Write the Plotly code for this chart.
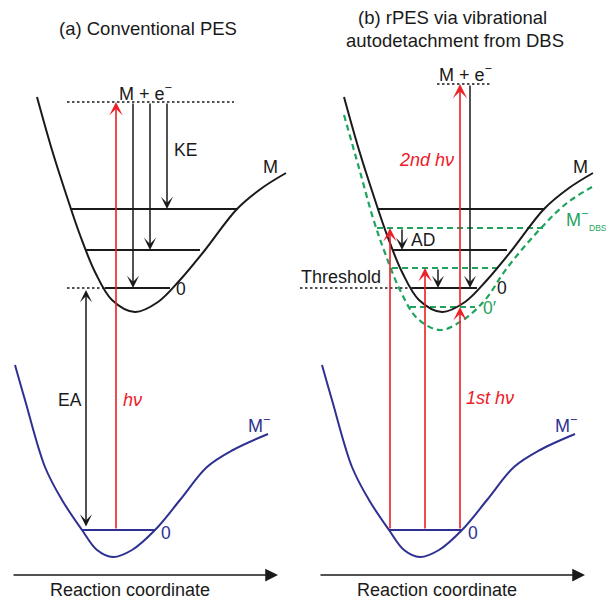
import plotly.graph_objects as go

# ---------------- data (reaction coordinate, energy) ----------------
PANEL_SHIFT = [0, 307]          # panel (a), panel (b)

# neutral M potential curve
M_X = [37, 52, 68, 80, 95, 112, 135, 158, 180, 205, 237, 262, 286]
M_E = [503, 450, 400, 365, 328, 300, 288, 298, 320, 350, 391, 412, 427]
# anion M- potential curve
ANION_X = [15, 25, 45, 62, 82, 97, 113, 132, 155, 180, 207, 233, 268]
ANION_E = [235, 200, 133, 100, 70, 50, 43, 50, 70, 100, 133, 150, 166]
# dipole-bound state M-_DBS curve
DBS_X = [37, 52, 66, 78, 93, 110, 133, 156, 178, 200, 234, 260, 285]
DBS_E = [485, 432, 382, 347, 310, 282, 270, 280, 300, 332, 372, 397, 413]

# vibrational levels
M_LEV_E = [391, 350, 312]
M_LEV_X0 = [70, 86, 105]
M_LEV_X1 = [238, 200, 170]
DBS_LEV_E = [372, 332, 293]
DBS_LEV_X0 = [70, 85, 103]
DBS_LEV_X1 = [238, 195, 168]
ANION_LEV_E = 70
ANION_LEV_X = [82, 155]

DETACH_E = [498, 516]            # M + e- level in (a), (b)
DETACH_X = [[67, 234], [130, 183]]
THRESH_X = [[67, 105], [-7, 105]]

# transitions in (a)
A_HV_X = 116
A_KE_X = [133, 150, 167]
A_KE_TO = [312, 350, 391]
A_EA_X = 86
# transitions in (b)
B_1ST_X = [83, 118, 153]
B_1ST_TO = [372, 332, 293]
B_2ND_X = 153
B_KE_X = 163
B_AD_X = [95, 131]
B_AD_FROM = [372, 332]
B_AD_TO = [350, 312]

BLACK = "#1a1a1a"
BLUE = "#2e3192"
RED = "#ec2027"
GREEN = "#1fa45e"
FONT = "Liberation Sans, Arial, sans-serif"

fig = go.Figure()


def line(xs, es, color, width, dash="solid", shape="linear"):
    fig.add_trace(go.Scatter(x=xs, y=es, mode="lines", hoverinfo="skip",
                             showlegend=False,
                             line=dict(color=color, width=width, dash=dash,
                                       shape=shape, smoothing=1.0)))


def arrow(x, e_from, e_to, color, width=1.5, head=3, size=1.35, both=False,
          horizontal=False, y=None):
    kw = dict(xref="x", yref="y", axref="x", ayref="y", showarrow=True,
              arrowhead=head, arrowsize=size, arrowwidth=width,
              arrowcolor=color, standoff=0, startstandoff=0, text="")
    if horizontal:
        kw.update(x=e_to, y=y, ax=e_from, ay=y)
    else:
        kw.update(x=x, y=e_to, ax=x, ay=e_from)
    if both:
        kw.update(arrowside="end+start", startarrowhead=head,
                  startarrowsize=size)
    fig.add_annotation(**kw)


def label(x, e, text, color=BLACK, size=17.5, xanchor="center"):
    fig.add_annotation(x=x, y=e, text=text, showarrow=False, xanchor=xanchor,
                       yanchor="middle", font=dict(family=FONT, size=size,
                                                   color=color))


DOT = "2.5px,2.5px"
DASH = "6px,4px"

for p, s in enumerate(PANEL_SHIFT):
    sx = lambda xs: [v + s for v in xs]
    # curves
    if p == 1:
        line(sx(DBS_X), DBS_E, GREEN, 2.2, dash=DASH, shape="spline")
        for e, x0, x1 in zip(DBS_LEV_E, DBS_LEV_X0, DBS_LEV_X1):
            line([x0 + s, x1 + s], [e, e], GREEN, 2.2, dash=DASH)
    line(sx(M_X), M_E, BLACK, 2.0, shape="spline")
    line(sx(ANION_X), ANION_E, BLUE, 2.0, shape="spline")
    for e, x0, x1 in zip(M_LEV_E, M_LEV_X0, M_LEV_X1):
        line([x0 + s, x1 + s], [e, e], BLACK, 1.8)
    line(sx(ANION_LEV_X), [ANION_LEV_E] * 2, BLUE, 2.0)
    line(sx(DETACH_X[p]), [DETACH_E[p]] * 2, BLACK, 1.6, dash=DOT)
    line(sx(THRESH_X[p]), [M_LEV_E[2]] * 2, BLACK, 1.6, dash=DOT)
    # reaction-coordinate axis arrow
    arrow(None, 12 + s, 278 + s, BLACK, width=1.5, head=2, size=1.7,
          horizontal=True, y=25)
    label(130 + s, 10.5, "Reaction coordinate", size=18)
    label(259 + s, 176, "M<sup>−</sup>", BLUE, 18)
    label(166 + s, 67, "0", BLUE, 17.5)

# ---- panel (a) ----
arrow(A_HV_X, ANION_LEV_E, DETACH_E[0], RED, width=1.6, size=1.4)
for x, e in zip(A_KE_X, A_KE_TO):
    arrow(x, DETACH_E[0], e, BLACK, width=1.5)
arrow(A_EA_X, ANION_LEV_E + 2, M_LEV_E[2] - 2, BLACK, width=1.5, both=True)
label(148, 572, "(a) Conventional PES", size=18.5)
label(145, 508, "M + e<sup>−</sup>", size=18)
label(185, 450, "KE", size=17.5)
label(270, 433, "M", size=18)
label(181, 311, "0", size=17.5)
label(70, 200, "EA", size=17.5)
label(132, 200, "<i>hν</i>", RED, 18)

# ---- panel (b) ----
s = PANEL_SHIFT[1]
for x, e in zip(B_1ST_X, B_1ST_TO):
    arrow(x + s, ANION_LEV_E, e, RED, width=1.6, size=1.4)
arrow(B_2ND_X + s, B_1ST_TO[2], DETACH_E[1], RED, width=1.6, size=1.5)
arrow(B_KE_X + s, DETACH_E[1], M_LEV_E[2], BLACK, width=1.5)
for x, e0, e1 in zip(B_AD_X, B_AD_FROM, B_AD_TO):
    arrow(x + s, e0, e1, BLACK, width=1.5)
label(452, 583, "(b) rPES via vibrational", size=18.5)
label(455, 560, "autodetachment from DBS", size=18.5)
label(465, 527, "M + e<sup>−</sup>", size=18)
label(426, 440, "<i>2nd hν</i>", RED, 18)
label(580, 433, "M", size=18)
label(564, 382, "M<sup>−</sup>", GREEN, 18, xanchor="left")
label(587, 372, "DBS", GREEN, 8.5, xanchor="left")
label(423, 360, "AD", size=17.5)
label(341, 323, "Threshold", size=18)
label(502, 312, "0", size=17.5)
label(489, 292, "0′", GREEN, 17.5)
label(490, 202, "<i>1st hν</i>", RED, 18)

# the page body has an 8 px margin: size and range the plot so that the
# drawing lands on the 614 x 600 window
fig.update_layout(
    width=606, height=592, margin=dict(l=0, r=0, t=0, b=0),
    paper_bgcolor="white", plot_bgcolor="white",
    xaxis=dict(range=[8, 614], visible=False, fixedrange=True),
    yaxis=dict(range=[0, 592], visible=False, fixedrange=True),
)
fig.write_html("out.html")
